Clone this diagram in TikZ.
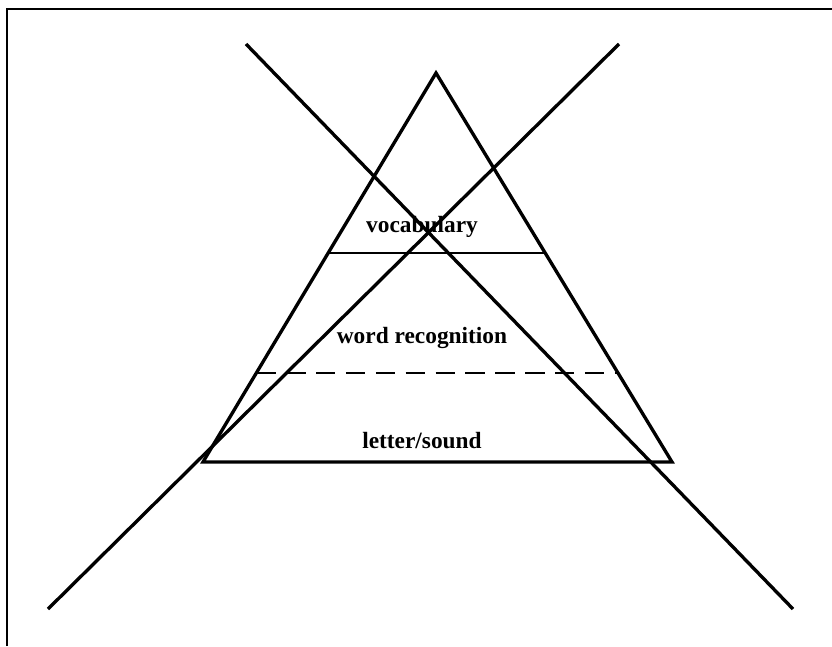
\documentclass[tikz,border=0pt]{standalone}
\usepackage{fontspec}
\setmainfont{Liberation Serif}
\usepackage{tikz}
\usetikzlibrary{calc}

\begin{document}
\begin{tikzpicture}[x=0.02cm,y=-0.02cm,
	thick line/.style={line width=1.9pt},
	level line/.style={line width=1.2pt},
	level text/.style={font=\fontsize{13.3}{15}\selectfont\bfseries}]
	\useasboundingbox (0,0) rectangle (832,646);
	% frame
	\draw[line width=1pt] (7,646) -- (7,9) -- (832,9);

	\coordinate (T) at (436,73);
	\coordinate (L) at (203,462);
	\coordinate (R) at (672,462);

	\draw[thick line, line join=miter] (T) -- (L) -- (R) -- cycle;

	% levels
	\coordinate (V1) at ($(T)!0.463!(L)$);
	\coordinate (V2) at ($(T)!0.463!(R)$);
	\coordinate (W1) at ($(T)!0.771!(L)$);
	\coordinate (W2) at ($(T)!0.771!(R)$);
	\draw[level line] (V1) -- (V2);
	\draw[level line, dash pattern=on 11pt off 6pt] (W1) -- (W2);

	% cross
	\coordinate (X1) at (246,44);
	\coordinate (X2) at (793,609);
	\coordinate (X3) at (619,44);
	\coordinate (X4) at (48,609);
	\draw[thick line] (X1) -- (X2);
	\draw[thick line] (X3) -- (X4);

	\node[level text] (voc) at (422,227) {vocabulary};
	\node[level text] (word) at (422,338) {word recognition};
	\node[level text] (let) at (422,441) {letter/sound};
\end{tikzpicture}
\end{document}
